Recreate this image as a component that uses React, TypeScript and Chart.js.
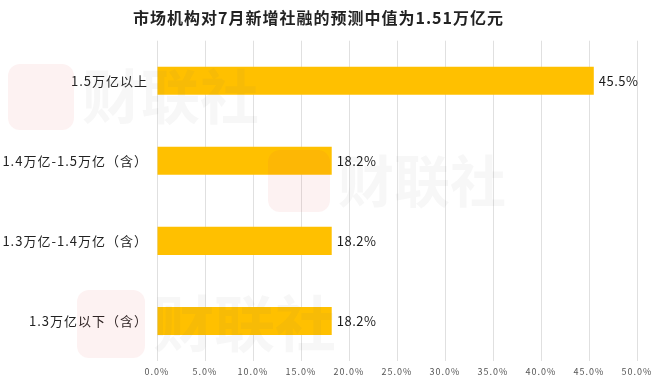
import React, { useEffect, useRef } from "react";
import { Chart, registerables } from "chart.js";

Chart.register(...registerables);

const categories = ["1.5万亿以上", "1.4万亿-1.5万亿（含）", "1.3万亿-1.4万亿（含）", "1.3万亿以下（含）"];
const shares = [45.5, 18.2, 18.2, 18.2];
const valueLabels = ["45.5%", "18.2%", "18.2%", "18.2%"];
const titleText = "市场机构对7月新增社融的预测中值为1.51万亿元";
const watermarkText = "财联社";

const FONT = "'Noto Sans CJK SC', 'Noto Sans', sans-serif";

const spacingPlugin = {
  id: "spacing",
  beforeDraw(chart: any) {
    (chart.ctx as any).letterSpacing = "1px";
  },
};

const labelPlugin = {
  id: "valueLabels",
  afterDatasetsDraw(chart: any) {
    const ctx = chart.ctx;
    const meta = chart.getDatasetMeta(0);
    ctx.save();
    (ctx as any).letterSpacing = "0.5px";
    ctx.font = `13px ${FONT}`;
    ctx.fillStyle = "#1a1a1a";
    ctx.textBaseline = "middle";
    ctx.textAlign = "left";
    meta.data.forEach((bar: any, i: number) => {
      ctx.fillText(valueLabels[i], bar.x + 5, bar.y);
    });
    ctx.restore();
  },
};

const watermarkPlugin = {
  id: "watermark",
  afterDraw(chart: any) {
    const ctx = chart.ctx;
    const marks = [
      { x: 8, y: 64, s: 66 },
      { x: 268, y: 150, s: 62 },
      { x: 77, y: 290, s: 68 },
    ];
    ctx.save();
    (ctx as any).letterSpacing = "0px";
    marks.forEach((m) => {
      ctx.globalAlpha = 0.07;
      ctx.fillStyle = "#e8404a";
      const r = 12;
      ctx.beginPath();
      ctx.moveTo(m.x + r, m.y);
      ctx.arcTo(m.x + m.s, m.y, m.x + m.s, m.y + m.s, r);
      ctx.arcTo(m.x + m.s, m.y + m.s, m.x, m.y + m.s, r);
      ctx.arcTo(m.x, m.y + m.s, m.x, m.y, r);
      ctx.arcTo(m.x, m.y, m.x + m.s, m.y, r);
      ctx.closePath();
      ctx.fill();
      ctx.globalAlpha = 0.055;
      ctx.fillStyle = "#666";
      ctx.font = `bold ${Math.round(m.s * 0.9)}px ${FONT}`;
      ctx.textBaseline = "middle";
      ctx.textAlign = "left";
      ctx.fillText(watermarkText, m.x + m.s + 8, m.y + m.s / 2);
    });
    ctx.restore();
  },
};

export default function App() {
  const ref = useRef<HTMLCanvasElement | null>(null);
  useEffect(() => {
    if (!ref.current) return;
    const chart = new Chart(ref.current, {
      type: "bar",
      data: {
        labels: categories,
        datasets: [
          {
            data: shares,
            backgroundColor: "#FFC000",
            categoryPercentage: 0.35,
            barPercentage: 1,
          },
        ],
      },
      options: {
        indexAxis: "y",
        animation: false,
        responsive: true,
        maintainAspectRatio: false,
        layout: { padding: { left: 0, right: 23, top: 0, bottom: 0 } },
        plugins: {
          legend: { display: false },
          tooltip: { enabled: false },
          title: {
            display: true,
            text: titleText,
            color: "#222",
            font: { family: FONT, size: 16, weight: "bold" },
            padding: { top: 8, bottom: 13.5 },
          },
        },
        scales: {
          x: {
            min: 0,
            max: 50,
            ticks: {
              stepSize: 5,
              padding: 5,
              color: "#555",
              font: { family: FONT, size: 9 },
              callback: (v: any) => Number(v).toFixed(1) + "%",
            },
            grid: { color: "#e0e0e0", drawTicks: false },
            border: { display: false },
            afterFit: (s: any) => {
              s.height = 24;
            },
          },
          y: {
            ticks: {
              padding: 9,
              color: "#222",
              font: { family: FONT, size: 13 },
            },
            grid: { display: false, drawTicks: false },
            border: { display: false },
            afterFit: (s: any) => {
              s.width = 157;
            },
          },
        },
      },
      plugins: [spacingPlugin, labelPlugin, watermarkPlugin],
    });
    return () => chart.destroy();
  }, []);
  return (
    <div style={{ position: "fixed", left: 0, top: 0, width: 660, height: 385, background: "#fff" }}>
      <canvas ref={ref} />
    </div>
  );
}
